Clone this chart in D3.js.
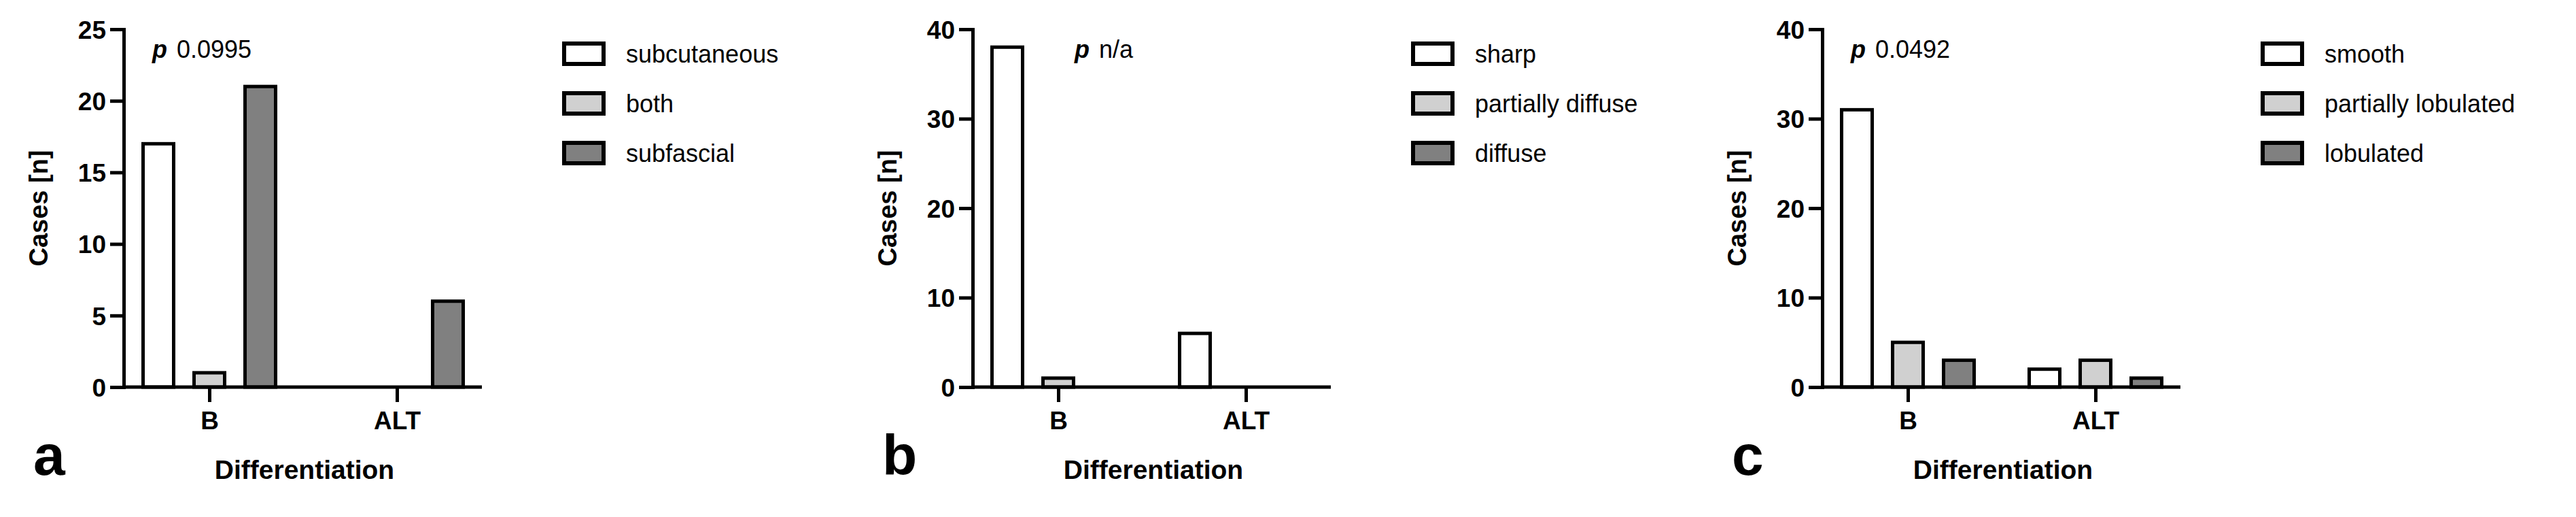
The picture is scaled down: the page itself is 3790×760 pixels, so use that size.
<!DOCTYPE html>
<html><head><meta charset="utf-8">
<script src="https://cdn.jsdelivr.net/npm/d3@7"></script>
<style>
body{margin:0;background:#fff}
text{font-family:"Liberation Sans Narrow","Liberation Sans",Arial,sans-serif}
</style></head>
<body><svg id="fig" width="3790" height="760"></svg>
<script>
const groups = ["B", "ALT"];
const fills = ["#ffffff", "#d0d0d0", "#808080"];

const seriesA = ["subcutaneous", "both", "subfascial"];
const valuesA = [[17, 0], [1, 0], [21, 6]];
const ticksA = [0, 5, 10, 15, 20, 25];

const seriesB = ["sharp", "partially diffuse", "diffuse"];
const valuesB = [[38, 6], [1, 0], [0, 0]];
const ticksB = [0, 10, 20, 30, 40];

const seriesC = ["smooth", "partially lobulated", "lobulated"];
const valuesC = [[31, 2], [5, 3], [3, 1]];
const ticksC = [0, 10, 20, 30, 40];

const panels = [
  {x0: 182, letter: "a", p: "0.0995", pdx: 42, series: seriesA, values: valuesA, ticks: ticksA, max: 25},
  {x0: 1431, letter: "b", p: "n/a", pdx: 150, series: seriesB, values: valuesB, ticks: ticksB, max: 40},
  {x0: 2681, letter: "c", p: "0.0492", pdx: 42, series: seriesC, values: valuesC, ticks: ticksC, max: 40}
];

const svg = d3.select("#fig");
const plotTop = 43, plotBottom = 569, plotW = 527;

panels.forEach(pn => {
  const g = svg.append("g").attr("transform", `translate(${pn.x0},0)`);
  const y = d3.scaleLinear().domain([0, pn.max]).range([plotBottom, plotTop]);
  const x = d3.scalePoint().domain(groups).range([126, 402]);
  const xs = d3.scaleBand().domain(pn.series).range([-112.5, 112.5]).paddingInner(0.4).paddingOuter(0.2);

  // bars
  pn.series.forEach((s, si) => {
    g.selectAll(null).data(pn.values[si].map((v, gi) => ({g: groups[gi], v})).filter(d => d.v > 0))
      .enter().append("rect")
      .attr("x", d => x(d.g) + xs(s))
      .attr("y", d => y(d.v))
      .attr("width", xs.bandwidth())
      .attr("height", d => plotBottom - y(d.v))
      .attr("fill", fills[si])
      .attr("stroke", "#000").attr("stroke-width", 5);
  });

  // axes
  const yAxis = g.append("g").call(d3.axisLeft(y).tickValues(pn.ticks).tickSize(20).tickPadding(6));
  const xAxis = g.append("g").attr("transform", `translate(0,${plotBottom})`)
    .call(d3.axisBottom(x).tickSize(22).tickPadding(14));
  xAxis.select(".domain").attr("d", `M0,0H${plotW}`);
  [yAxis, xAxis].forEach(a => {
    a.selectAll("path,line").attr("stroke", "#000").attr("stroke-width", 5);
    a.selectAll("text").attr("font-size", 37).attr("font-weight", "bold").attr("fill", "#000")
      .style("font-family", '"Liberation Sans Narrow","Liberation Sans",sans-serif');
  });
  yAxis.selectAll("text").attr("dy", "0.36em");

  g.append("text").attr("transform", `translate(-112,${(plotTop + plotBottom) / 2}) rotate(-90)`)
    .attr("text-anchor", "middle").attr("font-size", 38).attr("font-weight", "bold")
    .style("font-family", '"Liberation Sans",Arial,sans-serif').text("Cases [n]");
  g.append("text").attr("x", 266).attr("y", 704).attr("text-anchor", "middle")
    .attr("font-size", 39).attr("font-weight", "bold").text("Differentiation");
  g.append("text").attr("x", -133).attr("y", 698).attr("font-size", 84).attr("font-weight", "bold")
    .style("font-family", '"Liberation Sans",Arial,sans-serif').text(pn.letter);

  const pt = g.append("text").attr("x", pn.pdx).attr("y", 85).attr("font-size", 36)
    .style("font-family", '"Liberation Sans",Arial,sans-serif');
  pt.append("tspan").attr("font-weight", "bold").attr("font-style", "italic").text("p");
  pt.append("tspan").attr("dx", 14).text(pn.p);

  // legend
  const lg = g.append("g").attr("transform", "translate(648,0)");
  pn.series.forEach((s, i) => {
    const cy = 79 + i * 73;
    lg.append("rect").attr("x", 0).attr("y", cy - 15).attr("width", 58).attr("height", 30)
      .attr("fill", fills[i]).attr("stroke", "#000").attr("stroke-width", 6);
    lg.append("text").attr("x", 91).attr("y", cy).attr("dy", "0.35em").attr("font-size", 36)
      .style("font-family", '"Liberation Sans",Arial,sans-serif').text(s);
  });
});
</script></body></html>
